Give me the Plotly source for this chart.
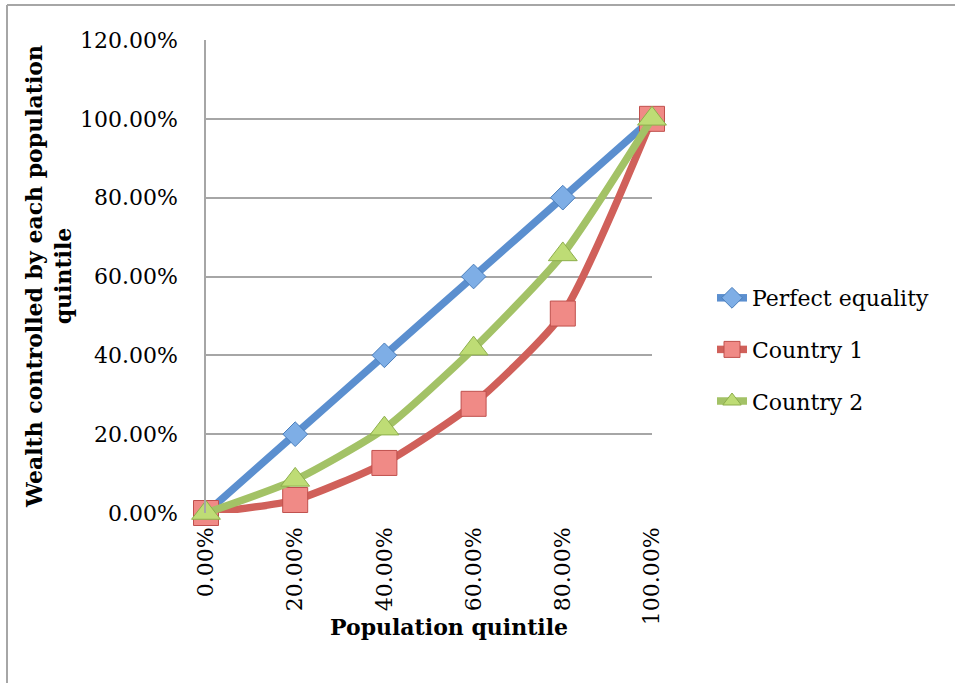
import plotly.graph_objects as go

# Lorenz-curve style data: cumulative population share vs. wealth share
quintiles = [0.0, 0.2, 0.4, 0.6, 0.8, 1.0]
perfect_equality = [0.0, 0.20, 0.40, 0.60, 0.80, 1.00]
country_1 = [0.0, 0.033, 0.127, 0.277, 0.506, 1.00]
country_2 = [0.0, 0.084, 0.214, 0.417, 0.656, 1.00]

x_ticks = [0.0, 0.2, 0.4, 0.6, 0.8, 1.0]
y_ticks = [0.0, 0.2, 0.4, 0.6, 0.8, 1.0, 1.2]

FONT = "DejaVu Serif"
W, H = 955, 683
L, R, T, B = 206, 303, 40, 170

fig = go.Figure()

series = [
    ("Perfect equality", perfect_equality, "#5B8FCF", "diamond", 19, "#7EAEE6", "#4A7EBB"),
    ("Country 1", country_1, "#D0605A", "square", 25, "#F08A86", "#C0504D"),
    ("Country 2", country_2, "#A3C266", "triangle-up", 25, "#BEDC75", "#8DAE4C"),
]

for i, (name, vals, lc, sym, size, fill, edge) in enumerate(series):
    fig.add_trace(go.Scatter(
        x=quintiles, y=vals, name=name, mode="lines+markers",
        line=dict(color=lc, width=7.5, shape="spline", smoothing=0.6),
        marker=dict(symbol=sym, size=size, color=fill, line=dict(color=edge, width=1)),
        cliponaxis=False, legendgroup=f"g{i}",
    ))

pw = W - L - R
ph = H - T - B

def px_x(p):
    return (p - L) / pw

def px_y(p):
    return (H - B - p) / ph

# outer chart frame (top and left edges visible)
fig.add_shape(type="line", xref="paper", yref="paper",
              x0=px_x(7), x1=px_x(960), y0=px_y(5), y1=px_y(5),
              line=dict(color="#A6A6A6", width=2))
fig.add_shape(type="line", xref="paper", yref="paper",
              x0=px_x(7), x1=px_x(7), y0=px_y(5), y1=px_y(690),
              line=dict(color="#A6A6A6", width=2))

fig.add_annotation(
    text="<b>Wealth controlled by each population<br>quintile</b>",
    xref="paper", yref="paper", x=px_x(48), y=px_y(277),
    xanchor="center", yanchor="middle",
    textangle=-90, showarrow=False, font=dict(family=FONT, size=22, color="black"),
    align="center",
)
fig.add_annotation(
    text="<b>Population quintile</b>",
    xref="paper", yref="paper", x=px_x(449), y=px_y(627),
    xanchor="center", yanchor="middle",
    showarrow=False, font=dict(family=FONT, size=22, color="black"),
)

fig.update_layout(
    width=W, height=H,
    margin=dict(l=L, r=R, t=T, b=B),
    paper_bgcolor="white", plot_bgcolor="white",
    font=dict(family=FONT, size=22, color="black"),
    showlegend=True,
    legend=dict(x=px_x(712), y=px_y(277), xanchor="left", yanchor="top",
                font=dict(family=FONT, size=22, color="black"),
                tracegroupgap=20, bgcolor="rgba(0,0,0,0)"),
    xaxis=dict(range=[0, 1], tickvals=x_ticks, tickformat=".2%", tickangle=-90,
               showgrid=False, zeroline=False, showline=False, ticks="",
               ticklabelstandoff=9),
    yaxis=dict(range=[0, 1.2], tickvals=y_ticks, tickformat=".2%",
               showgrid=True, gridcolor="#A6A6A6", gridwidth=1.5, zeroline=False,
               showline=True, linecolor="#A6A6A6", linewidth=1.5, ticks="",
               ticklabelstandoff=22),
)

fig.write_html("out.html")
